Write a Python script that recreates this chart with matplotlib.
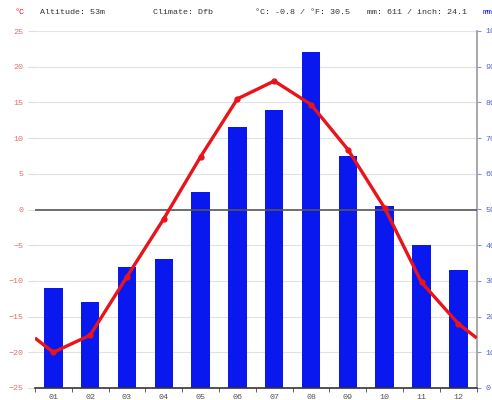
import matplotlib.pyplot as plt
import numpy as np

months = ["01", "02", "03", "04", "05", "06", "07", "08", "09", "10", "11", "12"]
precip_mm = [28, 24, 34, 36, 55, 73, 78, 94, 65, 51, 40, 33]
temp_c = [-20.0, -17.6, -9.4, -1.3, 7.4, 15.5, 18.0, 14.7, 8.4, 0.2, -10.2, -16.0]

header_left = ["Altitude: 53m", "Climate: Dfb"]
header_right = ["°C: -0.8 / °F: 30.5", "mm: 611 / inch: 24.1"]

RED = "#e8141a"
BLUE = "#0a18f0"
MONO = "Liberation Mono"

fig = plt.figure(figsize=(4.92, 4.0), dpi=100)
ax = fig.add_axes([0.071, 0.03, 0.898, 0.8925])
ax2 = ax.twinx()

x = np.arange(1, 13)

# light grid behind the bars (mm ticks line up with the 5 degree steps)
ax2.set_ylim(0, 100)
for v in np.arange(10, 101, 10):
    if v == 50:
        continue
    ax2.axhline(v, color="#e2e2e2", lw=0.8, zorder=0)

# precipitation bars on the right (mm) axis
ax2.bar(x, precip_mm, width=0.5, color=BLUE, zorder=2)
ax2.set_yticks(np.arange(0, 101, 10))
ax2.tick_params(axis="y", labelsize=6, colors="#8a93d8", length=3, pad=3)
for lbl in ax2.get_yticklabels():
    lbl.set_color("#5060d0")
    lbl.set_family(MONO)

# temperature line, wrapped at both ends half a month past the edge
edge = (temp_c[0] + temp_c[-1]) / 2
tx = np.concatenate([[0.5], x, [12.5]])
ty = np.concatenate([[edge], temp_c, [edge]])
ax.set_zorder(ax2.get_zorder() + 1)
ax.patch.set_visible(False)
ax.axhline(0, color="#555555", lw=1.2, zorder=3)
ax.plot(tx, ty, color=RED, lw=2.4, zorder=5, solid_capstyle="butt")
ax.plot(x, temp_c, "o", color=RED, ms=3.5, zorder=6)

ax.set_xlim(0.5, 12.5)
ax.set_ylim(-25, 25)
ax.set_yticks(np.arange(-25, 26, 5))
ax.set_xticks(x)
ax.set_xticklabels(months, family=MONO, fontsize=6, color="#555555")
ax.set_xticks(np.arange(0.5, 12.6, 1), minor=True)
ax.tick_params(axis="x", which="major", length=0, pad=4)
ax.tick_params(axis="x", which="minor", length=3, color="#444444")
ax.tick_params(axis="y", labelsize=6, length=5, color="#dddddd", pad=3)
for lbl in ax.get_yticklabels():
    lbl.set_color("#e07070")
    lbl.set_family(MONO)

for a in (ax, ax2):
    for s in a.spines.values():
        s.set_visible(False)
ax2.spines["right"].set_visible(True)
ax2.spines["right"].set_color("#9a9a9a")
ax2.spines["right"].set_linewidth(1.2)
ax.spines["bottom"].set_visible(True)
ax.spines["bottom"].set_color("#333333")
ax.spines["bottom"].set_linewidth(1.2)

# header row
fig.text(0.03, 0.965, "°C", color=RED, fontsize=6, family=MONO)
fig.text(0.082, 0.965, header_left[0], fontsize=6, family=MONO, color="#333333")
fig.text(0.31, 0.965, header_left[1], fontsize=6, family=MONO, color="#333333")
fig.text(0.518, 0.965, header_right[0], fontsize=6, family=MONO, color="#333333")
fig.text(0.745, 0.965, header_right[1], fontsize=6, family=MONO, color="#333333")
fig.text(0.982, 0.965, "mm", color=BLUE, fontsize=6, family=MONO)

fig.savefig("out.png", dpi=100)
